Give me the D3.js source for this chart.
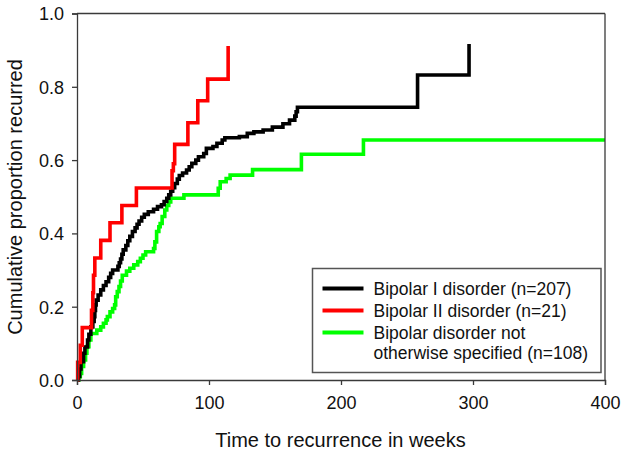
<!DOCTYPE html>
<html><head><meta charset="utf-8">
<script src="https://cdn.jsdelivr.net/npm/d3@7"></script>
<style>body{margin:0;background:#fff}svg{display:block}text{font-family:"Liberation Sans",Arial,sans-serif}</style>
</head><body>
<script>
const xTicks = [0, 100, 200, 300, 400];
const yTicks = [0, 0.2, 0.4, 0.6, 0.8, 1.0];
const seriesNames = ["Bipolar I disorder (n=207)", "Bipolar II disorder (n=21)", "Bipolar disorder not|otherwise specified (n=108)"];
const seriesColors = ["#000000", "#ff0000", "#00ff00"];

const bp1Time = [0,1,2,3,5,6,8,9,10.5,12,13,13.5,14,14.5,16,18,20,22,24,25.5,27,31,32,33,34,35,37,38.5,40,42,44,45.5,47,49,51,54,58,61,64,66,68,69.5,71,72.5,74,76,77.5,80,83,85,87,90,92,96,98,103,106,110,112,123,129,134,141,148,156,161,165,166,167,258,297];
const bp1Prop = [0,0.01,0.03,0.05,0.073,0.09,0.109,0.125,0.145,0.16,0.173,0.19,0.205,0.218,0.232,0.246,0.258,0.268,0.28,0.291,0.3,0.31,0.32,0.33,0.343,0.355,0.367,0.38,0.392,0.405,0.415,0.425,0.434,0.444,0.452,0.459,0.466,0.473,0.478,0.487,0.496,0.505,0.515,0.525,0.536,0.548,0.558,0.565,0.573,0.582,0.591,0.6,0.609,0.618,0.632,0.637,0.646,0.655,0.661,0.664,0.673,0.677,0.682,0.69,0.699,0.709,0.72,0.732,0.744,0.832,0.917];

const bp2Time = [0,0.5,2.5,4,11,12,12.5,13.5,18,25,34,45,72,73,74,84,91.5,99,114.5];
const bp2Prop = [0,0.048,0.095,0.143,0.19,0.238,0.286,0.333,0.381,0.429,0.476,0.524,0.571,0.59,0.643,0.702,0.762,0.821,0.911];

const nosTime = [0,1.5,2.5,3.5,5,6.5,7.5,9,10.5,15,18,20,22,23,25,27,28.5,29.3,30.5,31.8,33,34.3,37.5,40,43,46,48,50,52,58,59,60.3,62,63,64.5,66.5,68,69.5,71,81,107,108.5,113,116,133,170,217,400];
const nosProp = [0,0.009,0.018,0.037,0.055,0.073,0.091,0.109,0.127,0.136,0.145,0.155,0.164,0.173,0.186,0.195,0.205,0.227,0.241,0.255,0.27,0.286,0.297,0.305,0.314,0.323,0.332,0.341,0.35,0.359,0.377,0.405,0.418,0.427,0.446,0.464,0.476,0.486,0.496,0.505,0.523,0.541,0.55,0.559,0.574,0.616,0.655,0.655];

const W = 622, H = 453;
const L = 77, R = 605, T = 13.5, B = 380;
const svg = d3.select("body").append("svg").attr("width", W).attr("height", H);
const x = d3.scaleLinear().domain([0, 400]).range([L, R]);
const y = d3.scaleLinear().domain([0, 1]).range([B, T]);
const axisColor = "#3a3a3a";

// curves
const line = d3.line().x(d => x(d[0])).y(d => y(d[1])).curve(d3.curveStepAfter);
const series = [
  d3.zip(bp1Time, bp1Prop),
  d3.zip(bp2Time, bp2Prop),
  d3.zip(nosTime, nosProp)
];
const drawOrder = [2, 0, 1];
drawOrder.forEach(i => {
  svg.append("path").datum(series[i]).attr("d", line)
    .attr("fill", "none").attr("stroke", seriesColors[i])
    .attr("stroke-width", 3.6).attr("stroke-linejoin", "miter");
});

// frame
svg.append("line").attr("x1", L).attr("x2", R).attr("y1", T).attr("y2", T).attr("stroke", axisColor).attr("stroke-width", 1.3);
svg.append("line").attr("x1", R).attr("x2", R).attr("y1", T).attr("y2", B).attr("stroke", axisColor).attr("stroke-width", 1.3);

const xAxis = svg.append("g").attr("transform", `translate(0,${B})`)
  .call(d3.axisBottom(x).tickValues(xTicks).tickSize(5).tickPadding(8).tickFormat(d3.format("d")));
const yAxis = svg.append("g").attr("transform", `translate(${L},0)`)
  .call(d3.axisLeft(y).tickValues(yTicks).tickSize(5).tickPadding(8).tickFormat(d3.format(".1f")));
[xAxis, yAxis].forEach(g => {
  g.select(".domain").attr("stroke", axisColor).attr("stroke-width", 1.3);
  g.selectAll(".tick line").attr("stroke", axisColor).attr("stroke-width", 1.3);
  g.selectAll(".tick text").attr("fill", "#111").attr("font-size", 18).attr("font-family", "Liberation Sans, Arial, sans-serif");
});
xAxis.selectAll(".tick text").attr("dy", "0.9em");
yAxis.selectAll(".tick text").attr("dy", "0.36em");

// axis titles
svg.append("text").attr("x", (L + R) / 2 - 0.5).attr("y", 447).attr("text-anchor", "middle")
  .attr("font-size", 20).attr("fill", "#111").text("Time to recurrence in weeks");
svg.append("text").attr("transform", `translate(22,${197}) rotate(-90)`).attr("text-anchor", "middle")
  .attr("font-size", 20).attr("fill", "#111").text("Cumulative proportion recurred");

// legend
const lg = svg.append("g");
lg.append("rect").attr("x", 312.5).attr("y", 268.5).attr("width", 288.5).attr("height", 104)
  .attr("fill", "#fff").attr("stroke", "#555").attr("stroke-width", 1.5);
const rowY = [288.5, 310.5, 332.5, 352.5];
let r = 0;
seriesNames.forEach((name, i) => {
  lg.append("line").attr("x1", 322.5).attr("x2", 363.5).attr("y1", rowY[r]).attr("y2", rowY[r])
    .attr("stroke", seriesColors[i]).attr("stroke-width", 3.8);
  name.split("|").forEach(part => {
    lg.append("text").attr("x", 373.5).attr("y", rowY[r]).attr("dy", "0.36em")
      .attr("font-size", 17.5).attr("fill", "#111").text(part);
    r++;
  });
});
</script>
</body></html>
